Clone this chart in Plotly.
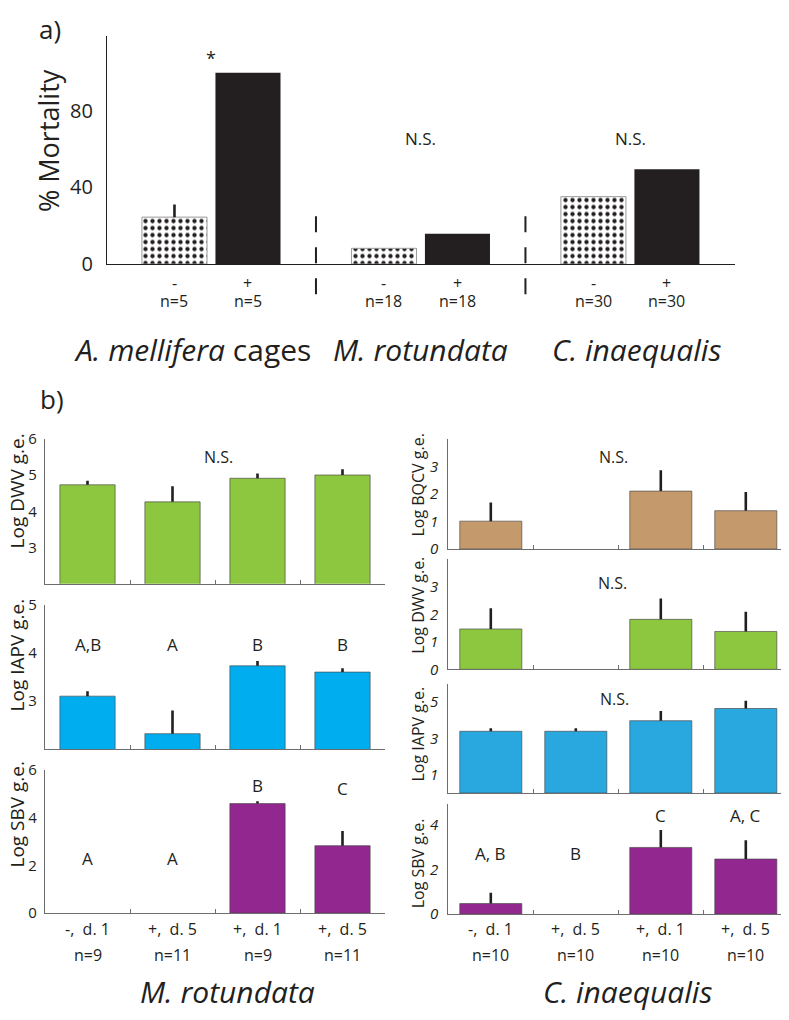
import plotly.graph_objects as go

# page is photographed with the browser's default 8px body margin
OX, OY = 8, 8
FW, FH = 773, 1004
INK = "#231f20"
FONT = "Open Sans"
NARROW = "Liberation Sans Narrow, Open Sans"

# ---------------- data: panel a ----------------
species_a = ["<i>A. mellifera</i> cages", "<i>M. rotundata</i>", "<i>C. inaequalis</i>"]
treat_a = ["-", "+"]
n_a_neg = ["n=5", "n=18", "n=30"]
n_a_pos = ["n=5", "n=18", "n=30"]
mort_neg = [24.5, 8.2, 35.2]
mort_neg_err = [6.6, 0, 0]
mort_pos = [100, 15.8, 49.5]
sig_a = ["*", "N.S.", "N.S."]
ticks_a = [0, 40, 80]

# ---------------- data: panel b ----------------
cats_b = ["-,  d. 1", "+,  d. 5", "+,  d. 1", "+,  d. 5"]
n_left = ["n=9", "n=11", "n=9", "n=11"]
n_right = ["n=10", "n=10", "n=10", "n=10"]

m_dwv = [4.73, 4.26, 4.91, 5.00]
m_dwv_err = [0.11, 0.43, 0.13, 0.16]
m_iapv = [3.10, 2.32, 3.73, 3.60]
m_iapv_err = [0.10, 0.48, 0.10, 0.08]
m_sbv = [0, 0, 4.58, 2.82]
m_sbv_err = [0, 0, 0.10, 0.61]
m_iapv_letters = ["A,B", "A", "B", "B"]
m_sbv_letters = ["A", "A", "B", "C"]

c_bqcv = [1.01, 0, 2.10, 1.39]
c_bqcv_err = [0.68, 0, 0.76, 0.68]
c_dwv = [1.47, 0, 1.82, 1.38]
c_dwv_err = [0.75, 0, 0.76, 0.72]
c_iapv = [3.39, 3.39, 3.97, 4.64]
c_iapv_err = [0.16, 0.16, 0.53, 0.42]
c_sbv = [0.47, 0, 2.98, 2.46]
c_sbv_err = [0.48, 0, 0.78, 0.84]
c_sbv_letters = ["A, B", "B", "C", "A, C"]

GREEN = "#8dc63f"
BLUE_L = "#00aeef"
BLUE_R = "#29a8e0"
TAN = "#c4996c"
PURPLE = "#92278f"


def px(x):
    return min(max((x - OX) / FW, 0), 1)


def py(y):
    return min(max(1 - (y - OY) / FH, 0), 1)


annotations = []


def ann(text, x, y, xref="paper", yref="paper", size=16, family=FONT, angle=0):
    annotations.append(dict(text=text, x=x, y=y, xref=xref, yref=yref, showarrow=False,
                            xanchor="center", yanchor="middle", textangle=angle,
                            font=dict(family=family, size=size, color=INK)))


fig = go.Figure()
shapes = []
layout = {}

# ---------------- panel a ----------------
GAP = 2.85
pos_neg = [g * GAP for g in range(3)]
pos_pos = [g * GAP + 1 for g in range(3)]
err_style = dict(type="data", symmetric=False, width=0, thickness=2.6, color=INK)

fig.add_trace(go.Bar(
    x=pos_neg, y=mort_neg, width=0.885, xaxis="x", yaxis="y",
    marker=dict(color="white", line=dict(color="#9a9a9a", width=1),
                pattern=dict(shape=".", fgcolor=INK, bgcolor="white", size=7,
                             solidity=0.3, fillmode="replace")),
    error_y=dict(array=mort_neg_err, arrayminus=[0] * 3, **err_style),
    showlegend=False, hoverinfo="skip"))
fig.add_trace(go.Bar(
    x=pos_pos, y=mort_pos, width=0.885, xaxis="x", yaxis="y",
    marker=dict(color=INK, line=dict(width=0)),
    showlegend=False, hoverinfo="skip"))

XMIN_A, XMAX_A = -0.918, 7.626
layout["xaxis"] = dict(domain=[px(107), px(735)], range=[XMIN_A, XMAX_A], anchor="y",
                       showline=True, linecolor=INK, linewidth=1.3, showgrid=False,
                       zeroline=False, tickvals=[XMAX_A], ticks="inside", ticklen=6,
                       tickcolor=INK, showticklabels=False)
layout["yaxis"] = dict(domain=[py(259), py(25)], range=[0, 119.4], anchor="x",
                       showline=True, linecolor=INK, linewidth=1.3, showgrid=False,
                       zeroline=False, tickvals=ticks_a, ticks="", ticklabelstandoff=9,
                       tickfont=dict(family=NARROW, size=20, color=INK))

for g in range(3):
    centre = (pos_neg[g] + pos_pos[g]) / 2
    ann(sig_a[g], centre, 107.7 if g == 0 else 65.8, "x", "y",
        size=18 if g == 0 else 17, family=NARROW)
    for xx, sign, nn in ((pos_neg[g], treat_a[0], n_a_neg[g]), (pos_pos[g], treat_a[1], n_a_pos[g])):
        ann(sign, xx, py(278), "x", "paper", size=16, family=NARROW)
        ann(nn, xx, py(297), "x", "paper", size=16, family=NARROW)
    if g < 2:
        sx = (pos_pos[g] + pos_neg[g + 1]) / 2
        shapes.append(dict(type="line", xref="x", yref="paper", x0=sx, x1=sx,
                           y0=py(210), y1=py(291),
                           line=dict(color=INK, width=2, dash="16px,15px")))

for xc, lab in zip([192, 420, 636], species_a):
    ann(lab, px(xc), py(347), size=30)

ann("% Mortality", px(48), py(133), size=27, angle=-90)
ann("a)", px(50), py(18), size=26)
ann("b)", px(52), py(397), size=26)

# ---------------- panel b ----------------
xs_b = [1, 2, 3, 4]
UNIT_B = 85.0
panels = [
    dict(title="Log DWV g.e.", v=m_dwv, e=m_dwv_err, c=GREEN, side="L", yr=[2, 6], tv=[3, 4, 5, 6],
         top=438, bot=586.7, ty=492),
    dict(title="Log IAPV g.e.", v=m_iapv, e=m_iapv_err, c=BLUE_L, side="L", yr=[2, 5], tv=[3, 4, 5],
         top=608, bot=756, ty=660),
    dict(title="Log SBV g.e.", v=m_sbv, e=m_sbv_err, c=PURPLE, side="L", yr=[0, 6], tv=[0, 2, 4, 6],
         top=777, bot=924, ty=823),
    dict(title="Log BQCV g.e.", v=c_bqcv, e=c_bqcv_err, c=TAN, side="R", yr=[0, 4], tv=[0, 1, 2, 3],
         top=438, bot=551, ty=485),
    dict(title="Log DWV g.e.", v=c_dwv, e=c_dwv_err, c=GREEN, side="R", yr=[0, 4], tv=[0, 1, 2, 3],
         top=561.7, bot=674.3, ty=608),
    dict(title="Log IAPV g.e.", v=c_iapv, e=c_iapv_err, c=BLUE_R, side="R", yr=[0, 6], tv=[1, 3, 5],
         top=689, bot=801, ty=740),
    dict(title="Log SBV g.e.", v=c_sbv, e=c_sbv_err, c=PURPLE, side="R", yr=[0, 4.9], tv=[0, 2, 4],
         top=812.7, bot=925, ty=873),
]

for i, p in enumerate(panels):
    k = i + 2
    xa, ya = f"x{k}", f"y{k}"
    left = p["side"] == "L"
    x0 = 45 if left else 448.3
    x1 = min(x0 + 4 * UNIT_B, OX + FW)
    xr = [0.5, 0.5 + (x1 - x0) / UNIT_B]
    outline = [1 if v > 0 else 0 for v in p["v"]]
    fig.add_trace(go.Bar(
        x=xs_b, y=p["v"], width=0.65 if left else 0.73, xaxis=xa, yaxis=ya,
        marker=dict(color=p["c"], line=dict(color="rgba(70,70,70,0.65)", width=outline)),
        error_y=dict(array=p["e"], arrayminus=[0] * 4, **err_style),
        showlegend=False, hoverinfo="skip"))
    layout[f"xaxis{k}"] = dict(domain=[px(x0), px(x1)], range=xr, anchor=ya, showline=True,
                               linecolor="#6d6d6d", linewidth=1.1, showgrid=False, zeroline=False,
                               tickvals=[1.5, 2.5, 3.5, 4.5], ticks="inside", ticklen=4,
                               tickcolor="#6d6d6d", showticklabels=False)
    layout[f"yaxis{k}"] = dict(domain=[py(p["bot"]), py(p["top"])], range=p["yr"], anchor=xa,
                               showline=True, linecolor="#6d6d6d", linewidth=1.1, showgrid=False,
                               zeroline=False, tickvals=p["tv"], ticks="",
                               ticklabelstandoff=4 if left else 6,
                               tickfont=dict(family=FONT, size=15, color=INK,
                                             style="normal" if left else "italic"))
    ann(p["title"], px(17 if left else 418), py(p["ty"]), size=19 if left else 16, angle=-90)

# N.S. labels
for k, xx, yy in ((2, 2.54, 5.49), (5, 2.44, 3.33), (6, 2.43, 3.15), (7, 2.46, 5.15)):
    ann("N.S.", xx, yy, f"x{k}", f"y{k}", size=16)

# letter labels
for xx, lab in zip(xs_b, m_iapv_letters):
    ann(lab, xx, 4.17, "x3", "y3", size=17)
for xx, lab, yy in zip(xs_b, m_sbv_letters, [2.3, 2.3, 5.35, 5.2]):
    ann(lab, xx, yy, "x4", "y4", size=17)
for xx, lab, yy in zip(xs_b, c_sbv_letters, [2.7, 2.7, 4.41, 4.41]):
    ann(lab, xx, yy, "x8", "y8", size=17)

# category labels under bottom panels
for xa, ns in (("x4", n_left), ("x8", n_right)):
    for xx, cat, nn in zip(xs_b, cats_b, ns):
        ann(cat, xx, py(940), xa, "paper", size=16)
        ann(nn, xx, py(967), xa, "paper", size=16)

ann("<i>M. rotundata</i>", px(227), py(1004), size=30)
ann("<i>C. inaequalis</i>", px(627), py(1004), size=30)

fig.update_layout(
    width=FW, height=FH, margin=dict(l=0, r=0, t=0, b=0),
    paper_bgcolor="white", plot_bgcolor="white", barmode="overlay",
    font=dict(family=FONT, color=INK), showlegend=False,
    annotations=annotations, shapes=shapes, **layout)

fig.write_html("out.html")
